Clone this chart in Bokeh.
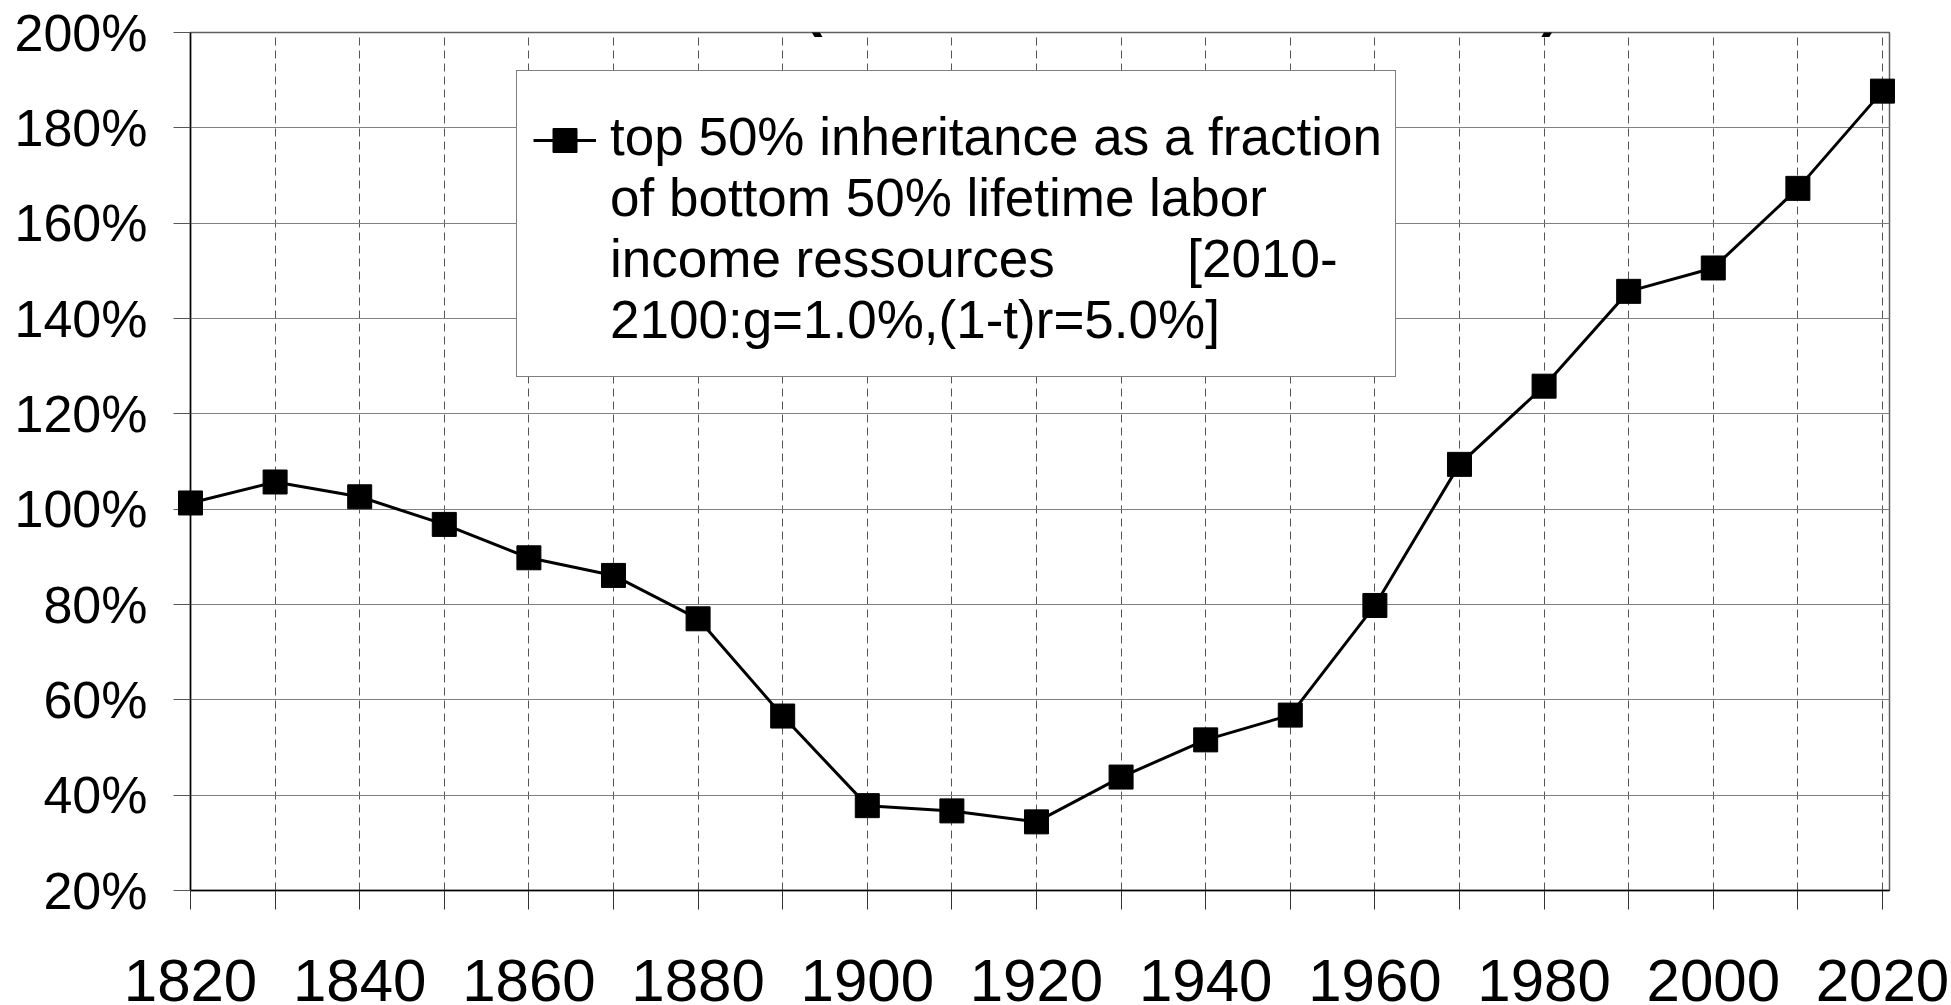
from bokeh.plotting import figure
from bokeh.models import (Range1d, FixedTicker, PrintfTickFormatter, Legend, LegendItem,
                          Label, ColumnDataSource)
from bokeh.embed import file_html
from bokeh.resources import INLINE
from bokeh.core.properties import value

# ---------------- data ----------------
years = [1820, 1830, 1840, 1850, 1860, 1870, 1880, 1890, 1900, 1910, 1920,
         1930, 1940, 1950, 1960, 1970, 1980, 1990, 2000, 2010, 2020]
ratio_pct = [101.3, 105.7, 102.6, 96.8, 89.8, 86.1, 77.0, 56.6, 37.8, 36.7, 34.4,
             43.8, 51.6, 56.8, 79.8, 109.4, 125.8, 145.7, 150.6, 167.3, 187.7]
x_label_years = [1820, 1840, 1860, 1880, 1900, 1920, 1940, 1960, 1980, 2000, 2020]
x_tick_years = years
y_ticks = [20, 40, 60, 80, 100, 120, 140, 160, 180, 200]
title_text = "income earners (cohorts born in 1820-2020)"
NB = "\u00a0"
legend_lines = [
    "top 50% inheritance as a fraction",
    "of bottom 50% lifetime labor",
    "income ressources" + NB * 9 + "[2010-",
    "2100:g=1.0%,(1-t)r=5.0%]",
]

FONT = "Liberation Sans"

p = figure(width=1951, height=1005, output_backend="svg", toolbar_location=None,
           x_range=Range1d(1820, 2020.83), y_range=Range1d(20, 200),
           min_border_left=190, min_border_right=62, min_border_top=32, min_border_bottom=115,
           background_fill_color="white", border_fill_color="white")

p.outline_line_color = "#606060"
p.outline_line_width = 1.5

# y axis
p.yaxis.ticker = FixedTicker(ticks=y_ticks)
p.yaxis.formatter = PrintfTickFormatter(format="%d%%")
p.yaxis.major_label_text_font = FONT
p.yaxis.major_label_text_font_size = "52px"
p.yaxis.major_label_text_color = "black"
p.yaxis.major_label_standoff = 26
p.yaxis.major_tick_out = 17
p.yaxis.major_tick_in = 0
p.yaxis.major_tick_line_color = "#555555"
p.yaxis.minor_tick_line_color = None
p.yaxis.axis_line_color = "black"
p.yaxis.axis_line_width = 1.5

# x axis: ticks every decade (as minor ticks so that the axis draws no text itself)
xticker = FixedTicker(ticks=[], minor_ticks=x_tick_years)
p.xaxis.ticker = xticker
p.xaxis.minor_tick_out = 19
p.xaxis.minor_tick_in = 0
p.xaxis.minor_tick_line_color = "#333333"
p.xaxis.axis_line_color = "black"
p.xaxis.axis_line_width = 1.5

# grids
p.ygrid.ticker = FixedTicker(ticks=y_ticks)
p.ygrid.grid_line_color = "#808080"
p.ygrid.grid_line_width = 1.2
p.xgrid.ticker = xticker
p.xgrid.grid_line_color = None
p.xgrid.minor_grid_line_color = "#555555"
p.xgrid.minor_grid_line_dash = "8 5"
p.xgrid.minor_grid_line_width = 1

# x tick labels, anchored at the bottom of the y range
p.text(x=x_label_years, y=20, text=[str(y) for y in x_label_years], y_offset=90,
       text_font=value(FONT), text_font_size="60px", text_color="black",
       text_align="center", text_baseline="alphabetic", level="overlay")

# series
src = ColumnDataSource(dict(x=years, y=ratio_pct))
line_r = p.line("x", "y", source=src, line_color="black", line_width=3, level="overlay")
mark_r = p.scatter("x", "y", source=src, marker="square", size=24,
                   fill_color="black", line_color="black", level="overlay")

# legend box with the text
legend_text = Legend(items=[LegendItem(label="\n".join(legend_lines), renderers=[mark_r])],
                     location=(326, 513), margin=0, padding=13, spacing=0,
                     glyph_width=0, glyph_height=20, label_standoff=80, label_height=271,
                     title=NB, title_text_font=FONT, title_text_font_size="6px",
                     title_standoff=2,
                     label_text_font=FONT, label_text_font_size="53px",
                     label_text_color="black",
                     border_line_color="black", border_line_width=1,
                     background_fill_color="white", background_fill_alpha=1.0)
p.add_layout(legend_text)

# legend key (line + square) next to the first line
legend_key = Legend(items=[LegendItem(label=NB, renderers=[line_r, mark_r])],
                    location=(343, 720), margin=0, padding=0, spacing=0,
                    glyph_width=63, glyph_height=60, label_standoff=0, label_height=60,
                    label_text_font=FONT, label_text_font_size="8px",
                    border_line_color=None, background_fill_alpha=0.0)
p.add_layout(legend_key)

# title (cropped at top in the reference)
p.add_layout(Label(x=769, y=886, x_units="screen", y_units="screen", text=title_text,
                   text_font=FONT, text_font_size="58px", text_font_style="bold",
                   text_align="center", text_baseline="alphabetic", text_color="black"))

open("out.html", "w").write(file_html(p, INLINE))
